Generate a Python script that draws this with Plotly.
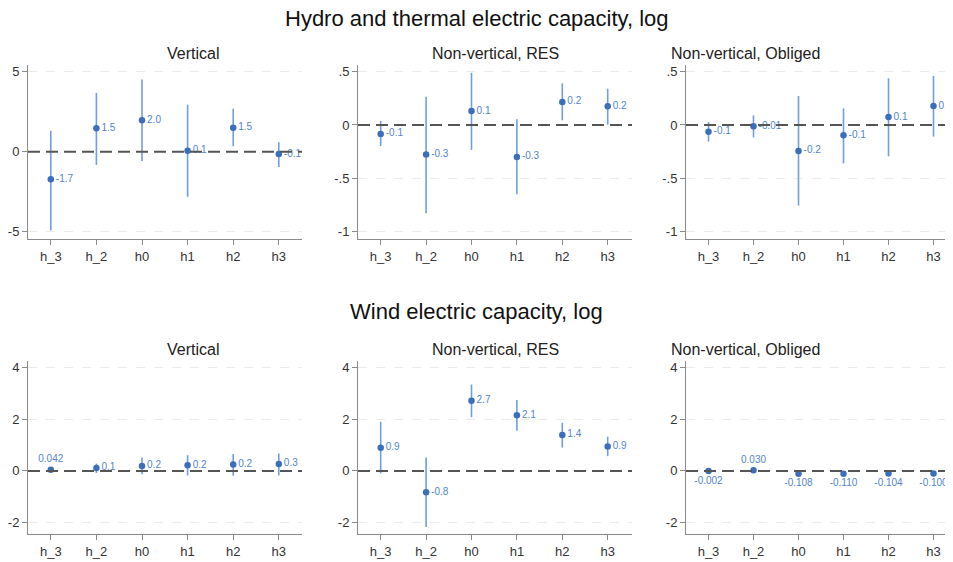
import plotly.graph_objects as go

cats = ["h_3", "h_2", "h0", "h1", "h2", "h3"]

# Hydro and thermal electric capacity, log
hyd_vert = [-1.72, 1.47, 1.97, 0.07, 1.50, -0.14]
hyd_vert_lo = [-4.92, -0.82, -0.57, -2.82, 0.34, -0.95]
hyd_vert_hi = [1.32, 3.68, 4.52, 2.94, 2.69, 0.59]
hyd_vert_lab = ["-1.7", "1.5", "2.0", "0.1", "1.5", "-0.1"]

hyd_res = [-0.084, -0.278, 0.131, -0.300, 0.216, 0.175]
hyd_res_lo = [-0.197, -0.828, -0.234, -0.650, 0.044, 0.003]
hyd_res_hi = [0.038, 0.266, 0.490, 0.053, 0.390, 0.340]
hyd_res_lab = ["-0.1", "-0.3", "0.1", "-0.3", "0.2", "0.2"]

hyd_obl = [-0.063, -0.013, -0.244, -0.097, 0.075, 0.178]
hyd_obl_lo = [-0.156, -0.116, -0.756, -0.360, -0.294, -0.109]
hyd_obl_hi = [0.028, 0.090, 0.272, 0.156, 0.438, 0.460]
hyd_obl_lab = ["-0.1", "-0.01", "-0.2", "-0.1", "0.1", "0.2"]

# Wind electric capacity, log
wind_vert = [0.042, 0.116, 0.19, 0.22, 0.245, 0.27]
wind_vert_lo = [0.00, -0.08, -0.13, -0.18, -0.19, -0.18]
wind_vert_hi = [0.08, 0.28, 0.52, 0.61, 0.65, 0.67]
wind_vert_lab = ["0.042", "0.1", "0.2", "0.2", "0.2", "0.3"]

wind_res = [0.90, -0.83, 2.71, 2.15, 1.39, 0.94]
wind_res_lo = [-0.10, -2.17, 2.08, 1.55, 0.90, 0.57]
wind_res_hi = [1.90, 0.52, 3.34, 2.74, 1.86, 1.32]
wind_res_lab = ["0.9", "-0.8", "2.7", "2.1", "1.4", "0.9"]

wind_obl = [-0.002, 0.030, -0.108, -0.110, -0.104, -0.100]
wind_obl_lo = [-0.03, 0.00, -0.14, -0.14, -0.13, -0.13]
wind_obl_hi = [0.025, 0.06, -0.08, -0.08, -0.08, -0.07]
wind_obl_lab = ["-0.002", "0.030", "-0.108", "-0.110", "-0.104", "-0.100"]

panel_titles = ["Vertical", "Non-vertical, RES", "Non-vertical, Obliged"]
row_titles = ["Hydro and thermal electric capacity, log", "Wind electric capacity, log"]

OFF = 8  # page body margin
W, H = 953 - OFF, 562 - OFF
FONT = "Liberation Sans, Arial, sans-serif"
MARK = "#3a70bb"
ERR = "#6f9fdd"
LAB = "#5285cc"

panels = [
    (hyd_vert, hyd_vert_lo, hyd_vert_hi, hyd_vert_lab, ["middle right"] * 6),
    (hyd_res, hyd_res_lo, hyd_res_hi, hyd_res_lab, ["middle right"] * 6),
    (hyd_obl, hyd_obl_lo, hyd_obl_hi, hyd_obl_lab, ["middle right"] * 6),
    (wind_vert, wind_vert_lo, wind_vert_hi, wind_vert_lab, ["top center"] + ["middle right"] * 5),
    (wind_res, wind_res_lo, wind_res_hi, wind_res_lab, ["middle right"] * 6),
    (wind_obl, wind_obl_lo, wind_obl_hi, wind_obl_lab,
     ["bottom center", "top center", "bottom center", "bottom center", "bottom center", "bottom center"]),
]

# pixel positions in the 953x562 window
xdom_px = [(28, 302), (358, 632), (686, 953)]
title_cx = [165, 495, 822]
ydom_px = [(65, 239), (361, 534)]
yranges = [[-5.45, 5.42], [-1.07, 0.563], [-1.07, 0.563],
           [-2.44, 4.25], [-2.44, 4.25], [-2.44, 4.25]]
yticks = [([-5, 0, 5], ["-5", "0", "5"]),
          ([-1, -0.5, 0, 0.5], ["-1", "-.5", "0", ".5"]),
          ([-1, -0.5, 0, 0.5], ["-1", "-.5", "0", ".5"]),
          ([-2, 0, 2, 4], ["-2", "0", "2", "4"]),
          ([-2, 0, 2, 4], ["-2", "0", "2", "4"]),
          ([-2, 0, 2, 4], ["-2", "0", "2", "4"])]
px_per_cat = [45.6, 45.4, 45.0]


def px(v):
    return (v - OFF) / W


def py(v):
    return 1 - (v - OFF) / H


fig = go.Figure()
layout = {}
shapes = []
annotations = []

for i, (vals, lo, hi, lab, pos) in enumerate(panels):
    r, c = divmod(i, 3)
    n = "" if i == 0 else str(i + 1)
    xd0, xd1 = xdom_px[c]
    yd0, yd1 = ydom_px[r]
    xr_hi = -0.5 + (xd1 - xd0) / px_per_cat[c]
    fig.add_trace(go.Scatter(
        x=cats, y=vals, mode="markers+text",
        text=lab, textposition=pos,
        textfont=dict(size=10, color=LAB, family=FONT),
        marker=dict(size=6.5, color=MARK),
        error_y=dict(type="data", symmetric=False,
                     array=[h - v for h, v in zip(hi, vals)],
                     arrayminus=[v - l for v, l in zip(vals, lo)],
                     color=ERR, thickness=1.6, width=0),
        cliponaxis=False,
        xaxis="x" + n, yaxis="y" + n, showlegend=False,
    ))
    layout["xaxis" + n] = dict(
        domain=[px(xd0), min(1.0, px(xd1))], anchor="y" + n,
        type="category", categoryorder="array", categoryarray=cats,
        range=[-0.5, xr_hi],
        showgrid=False, showline=True, linecolor="#8a8a8a", linewidth=1,
        ticks="outside", ticklen=5, tickcolor="#8a8a8a",
        tickfont=dict(size=13, color="#333", family=FONT), zeroline=False,
    )
    tv, tt = yticks[i]
    layout["yaxis" + n] = dict(
        domain=[py(yd1), py(yd0)], anchor="x" + n,
        range=yranges[i], tickvals=tv, ticktext=tt,
        showgrid=True, gridcolor="#ebebeb", griddash="dash", gridwidth=1,
        showline=True, linecolor="#8a8a8a", linewidth=1,
        ticks="outside", ticklen=5, tickcolor="#8a8a8a",
        tickfont=dict(size=13, color="#333", family=FONT), zeroline=False,
    )
    shapes.append(dict(type="line", xref="x" + n + " domain", yref="y" + n,
                       x0=0, x1=1, y0=0, y1=0, layer="above",
                       line=dict(color="#555555", width=2, dash="12px,6px")))
    annotations.append(dict(text=panel_titles[c], showarrow=False,
                            xref="paper", yref="paper",
                            x=px(title_cx[c]),
                            y=py(yd0 - 12), yanchor="middle",
                            font=dict(size=16, color="#222", family=FONT)))

annotations.append(dict(text=row_titles[0], showarrow=False, xref="paper", yref="paper",
                        x=px(476.5), y=py(18), yanchor="middle",
                        font=dict(size=22, color="#111", family=FONT)))
annotations.append(dict(text=row_titles[1], showarrow=False, xref="paper", yref="paper",
                        x=px(476.5), y=py(311), yanchor="middle",
                        font=dict(size=22, color="#111", family=FONT)))

fig.update_layout(
    width=W, height=H, margin=dict(l=0, r=0, t=0, b=0),
    paper_bgcolor="white", plot_bgcolor="white",
    shapes=shapes, annotations=annotations,
    font=dict(family=FONT), **layout,
)
fig.write_html("out.html")
